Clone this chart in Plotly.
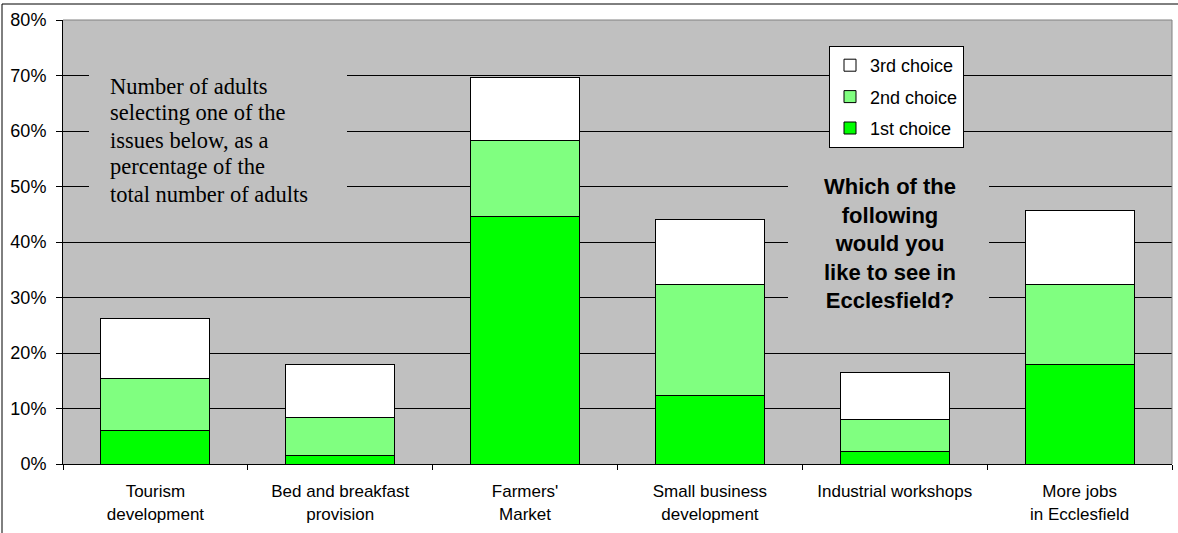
import plotly.graph_objects as go

categories = ["Tourism<br>development", "Bed and breakfast<br>provision", "Farmers'<br>Market",
              "Small business<br>development", "Industrial workshops", "More jobs<br>in Ecclesfield"]
first_choice = [6.1, 1.5, 44.6, 12.3, 2.3, 18.0]
second_choice = [9.3, 6.8, 13.7, 20.1, 5.7, 14.4]
third_choice = [10.8, 9.7, 11.4, 11.6, 8.4, 13.2]
y_ticks = [0, 10, 20, 30, 40, 50, 60, 70, 80]
y_labels = [f"{v}%" for v in y_ticks]
note_lines = ["Number of adults", "selecting one of the", "issues below, as a",
              "percentage of the", "total number of adults"]

SANS = "Liberation Sans, Arial, sans-serif"
SERIF = "Liberation Serif, Times New Roman, serif"

W, H = 1178, 533
ML, MR, MT, MB = 63, 6, 20, 69
PW, PH = W - ML - MR, H - MT - MB


def px(xp):
    return (xp - ML) / PW


def py(yp):
    return (H - MB - yp) / PH


fig = go.Figure()
series = [("1st choice", first_choice, "#00FF00", 3),
          ("2nd choice", second_choice, "#80FF80", 2),
          ("3rd choice", third_choice, "#FFFFFF", 1)]
for name, vals, col, rank in series:
    fig.add_trace(go.Bar(x=categories, y=vals, name=name, legendgroup=name, legendrank=rank,
                         marker=dict(color=col, line=dict(color="#000000", width=1)),
                         hoverinfo="skip"))

fig.update_layout(
    barmode="stack", bargap=0.41,
    width=W, height=H,
    margin=dict(l=ML, r=MR, t=MT, b=MB),
    paper_bgcolor="#FFFFFF", plot_bgcolor="#C0C0C0",
    font=dict(family=SANS, size=17, color="#000000"),
    showlegend=True,
    legend=dict(x=px(829), y=py(46), xanchor="left", yanchor="top",
                traceorder="grouped", tracegroupgap=5,
                bgcolor="#FFFFFF", bordercolor="#000000", borderwidth=1,
                font=dict(family=SANS, size=18, color="#000000")),
)
fig.update_xaxes(showline=True, linecolor="#000000", linewidth=1,
                 ticks="outside", tickson="boundaries", ticklen=5, tickcolor="#000000",
                 ticklabelstandoff=12,
                 tickfont=dict(family=SANS, size=17), showgrid=False)
fig.update_yaxes(range=[0, 80], tickvals=y_ticks, ticktext=y_labels,
                 showline=True, linecolor="#000000", linewidth=1,
                 ticks="outside", ticklen=6, tickcolor="#000000",
                 ticklabelstandoff=6,
                 showgrid=True, gridcolor="#000000", gridwidth=1, zeroline=False,
                 tickfont=dict(family=SANS, size=18))

# gray patches behind the two text blocks (hide gridlines)
fig.add_shape(type="rect", xref="paper", yref="paper", x0=px(89), x1=px(347), y0=py(215), y1=py(65),
              fillcolor="#C0C0C0", line=dict(width=0))
fig.add_shape(type="rect", xref="paper", yref="paper", x0=px(788), x1=px(989), y0=py(320), y1=py(165),
              fillcolor="#C0C0C0", line=dict(width=0))
# plot-area border top/right (gray) and outer frame
fig.add_shape(type="line", xref="paper", yref="paper", x0=0, x1=1, y0=1, y1=1,
              line=dict(color="#808080", width=1))
fig.add_shape(type="line", xref="paper", yref="paper", x0=1, x1=1, y0=0, y1=1,
              line=dict(color="#808080", width=1))
fig.add_shape(type="line", xref="paper", yref="paper", x0=px(2), x1=px(2), y0=py(H + 20), y1=py(4),
              line=dict(color="#000000", width=1))
fig.add_shape(type="line", xref="paper", yref="paper", x0=px(2), x1=px(W + 20), y0=py(4), y1=py(4),
              line=dict(color="#000000", width=1))

for i, line in enumerate(note_lines):
    fig.add_annotation(xref="paper", yref="paper", x=px(108), y=py(86 + 27 * i),
                       xanchor="left", yanchor="middle", align="left", showarrow=False,
                       text=line, font=dict(family=SERIF, size=22.5, color="#000000"))
fig.add_annotation(xref="paper", yref="paper", x=px(890), y=py(243.5), xanchor="center", yanchor="middle",
                   align="center", showarrow=False,
                   text="<b>Which of the<br>following<br>would you<br>like to see in<br>Ecclesfield?</b>",
                   font=dict(family=SANS, size=22, color="#000000"))

fig.write_html("out.html", config={"displayModeBar": False},
               post_script="document.body.style.margin='0px';document.body.style.overflow='hidden';")
